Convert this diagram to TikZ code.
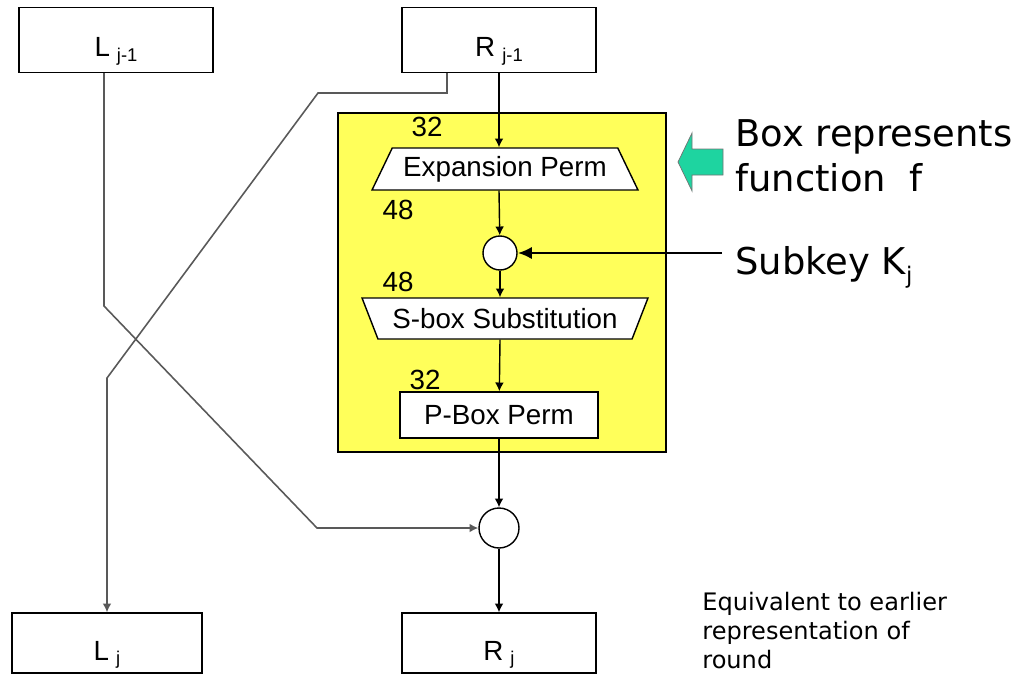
\documentclass[tikz,border=0pt]{standalone}
\usepackage{fontspec}
\setmainfont{Liberation Sans}
\newfontfamily\notefont{DejaVu Sans}
\usepackage{tikz}
\usetikzlibrary{arrows.meta,positioning,shapes.geometric}

\definecolor{fyellow}{RGB}{255,255,90}
\definecolor{fgreen}{RGB}{30,212,160}
\newcommand{\lowidx}[1]{\hspace{4pt}\raisebox{-2.5pt}{\fontsize{10.5}{12}\selectfont #1}}

\begin{document}
\begin{tikzpicture}[
    x=0.02cm, y=-0.02cm,
    every node/.style={font=\fontsize{15.8}{19}\selectfont},
    blk/.style={draw, line width=0.8pt, fill=white, minimum width=3.88cm, minimum height=1.3cm, inner sep=0pt, text height=0.68cm, text depth=0cm},
    trap/.style={draw, line width=0.8pt, fill=white, trapezium, trapezium stretches body, trapezium left angle=52, trapezium right angle=52, inner sep=0pt},
    xor/.style={draw, line width=0.8pt, circle, fill=white, inner sep=0pt},
    num/.style={inner sep=0pt},
    arr/.style={-{Latex[length=5pt,width=5pt]}, line width=0.8pt},
    xarr/.style={line width=0.9pt, black!65},
    karr/.style={-{Latex[length=8pt,width=7pt]}, line width=1.7pt},
]
\useasboundingbox (0,0) rectangle (1026,679);

% Function box
\node (fbox) [draw, line width=1pt, fill=fyellow, minimum width=6.56cm, minimum height=6.78cm] at (502,282.5) {};

% Nodes
\node (Lprev) [blk] at (116,40) {L\lowidx{j-1}};
\node (Rprev) [blk] at (499,40) {R\lowidx{j-1}};
\node (exp) [trap, minimum width=5.32cm, minimum height=0.84cm] at (505,169) {Expansion Perm};
\node (xor1) [xor, minimum size=0.68cm] at (500,253) {};
\node (sbox) [trap, shape border rotate=180, minimum width=5.72cm, minimum height=0.82cm] at (505,318.5) {S-box Substitution};
\node (pbox) [draw, line width=0.8pt, fill=white, minimum width=3.96cm, minimum height=0.92cm, inner sep=0pt] at (499,415) {P-Box Perm};
\node (xor2) [xor, minimum size=0.8cm] at (499,528) {};
\node (Lnext) [blk, minimum width=3.8cm, minimum height=1.2cm] at (107,643) {L\lowidx{j}};
\node (Rnext) [blk, minimum height=1.2cm] at (499,643) {R\lowidx{j}};

% Bit widths
\node (w32a) [num] at (427,127) {32};
\node (w48a) [num] at (398,210) {48};
\node (w48b) [num] at (398,282) {48};
\node (w32b) [num] at (425,380) {32};

% Notes
\node (fnote) [anchor=north west, align=left, inner sep=0pt, font=\notefont\fontsize{21}{26}\selectfont] at (735,119) {Box represents\\function~ f};
\node (keytxt) [anchor=west, inner sep=0pt, inner xsep=7.4pt, font=\notefont\fontsize{21}{25}\selectfont] at (722,267) {Subkey K\raisebox{-5pt}{\fontsize{13}{15}\selectfont j}};
\node (eqnote) [anchor=north west, align=left, inner sep=0pt, font=\notefont\fontsize{13.7}{16.4}\selectfont] at (702,592) {Equivalent to earlier\\representation of\\round};

% Green pointer
\filldraw[fill=fgreen, draw=black!55, line width=0.4pt] (723,149) -- (692,149) -- (692,133) -- (678,162) -- (692,191) -- (692,175) -- (723,175) -- cycle;

% Round path
\draw[arr] (Rprev) -- (Rprev |- exp.north);
\draw[arr] (Rprev |- exp.south) -- (xor1);
\draw[arr] (xor1) -- (xor1 |- sbox.north);
\draw[arr] (xor1 |- sbox.south) -- (pbox);
\draw[arr] (pbox) -- (xor2);
\draw[arr] (xor2) -- (Rnext);
\draw[karr] (keytxt.west |- xor1.east) -- (xor1.east);

% Crossing lines
\coordinate (lk1) at (104,306);
\coordinate (lk2) at (317,528);
\coordinate (rk0) at (447,93);
\coordinate (rk1) at (318,93);
\coordinate (rk2) at (107,378);
\draw[arr, xarr] (Lprev.south -| lk1) -- (lk1) -- (lk2) -- (xor2.west);
\draw[arr, xarr] (Rprev.south -| rk0) -- (rk0) -- (rk1) -- (rk2) -- (rk2 |- Lnext.north);
\end{tikzpicture}
\end{document}
